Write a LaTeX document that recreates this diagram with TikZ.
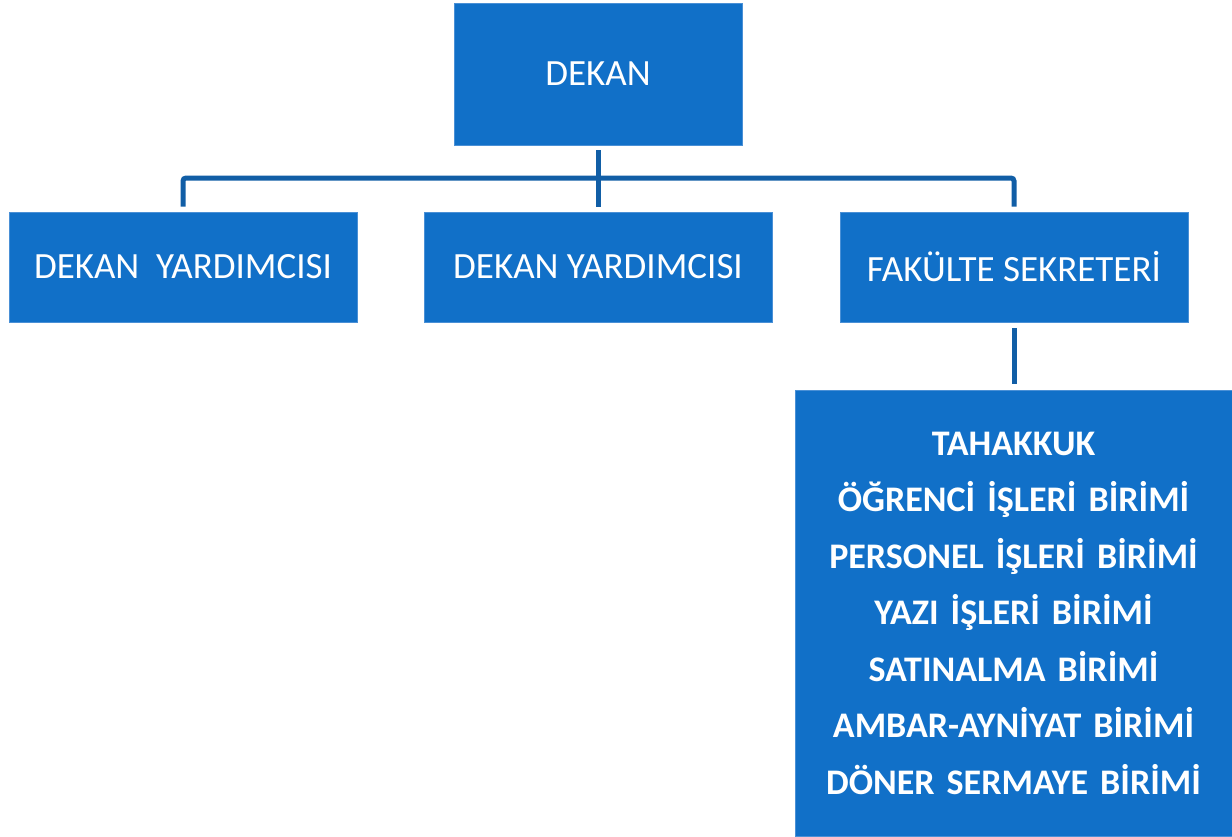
\documentclass[tikz,border=0pt]{standalone}
\usepackage{fontspec}
\setmainfont{Carlito}
\usetikzlibrary{positioning}
\definecolor{boxblue}{HTML}{1170C8}
\definecolor{edgeblue}{HTML}{4A90D6}
\definecolor{lineblue}{HTML}{115EA6}
\tikzset{
  unit/.style={fill=boxblue, draw=edgeblue, line width=0.8pt, text=white,
    inner sep=0pt, font=\fontsize{37}{44}\selectfont},
  conn/.style={draw=lineblue, line width=5pt}
}
\begin{document}
\begin{tikzpicture}[x=1pt,y=-1pt]
\useasboundingbox (0,0) rectangle (1232,836);
\node[unit, minimum width=288, minimum height=142] (dekan) at (598,74) {DEKAN};
\node[unit, minimum width=348, minimum height=110] (yard1) at (183,267) {DEKAN\ \ YARDIMCISI};
\node[unit, minimum width=348, minimum height=110] (yard2) at (598,267) {DEKAN YARDIMCISI};
\node[unit, minimum width=348, minimum height=110] (sekreter) at (1014,267) {FAKÜLTE SEKRETERİ};
\node[unit, minimum width=437, minimum height=446, text width=437, align=center,
  font=\fontsize{36}{56.5}\selectfont\bfseries] (birim) at (1013.5,613)
  {TAHAKKUK\\ ÖĞRENCİ İŞLERİ BİRİMİ\\ PERSONEL İŞLERİ BİRİMİ\\ YAZI İŞLERİ BİRİMİ\\
   SATINALMA BİRİMİ\\ AMBAR-AYNİYAT BİRİMİ\\ DÖNER SERMAYE BİRİMİ};
% connectors
\coordinate (bar) at (598,178);
\draw[conn] ([yshift=-5]dekan.south) -- ([yshift=5]yard2.north);
\draw[conn, rounded corners=3] ([yshift=5]yard1.north) |- (bar) -| ([yshift=5]sekreter.north);
\draw[conn] ([yshift=-6]sekreter.south) -- ([yshift=6]sekreter.south |- birim.north);
\end{tikzpicture}
\end{document}
